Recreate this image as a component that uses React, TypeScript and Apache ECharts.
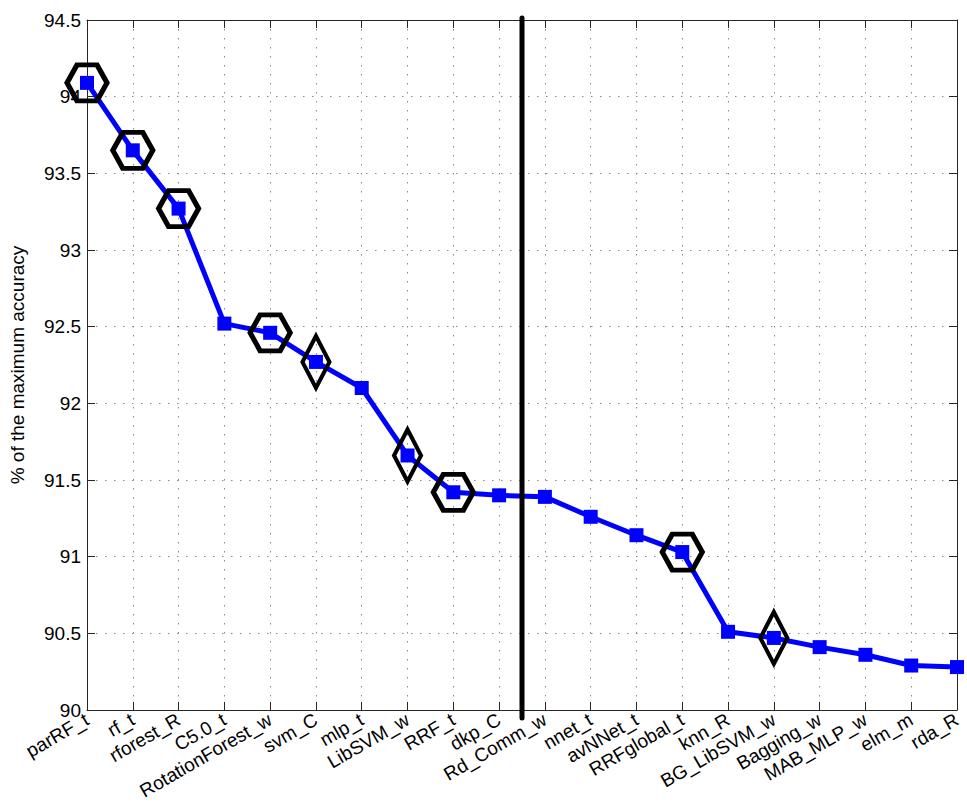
import React, { useEffect, useRef } from "react";
import * as echarts from "echarts";

const categories = [
  "parRF_t", "rf_t", "rforest_R", "C5.0_t", "RotationForest_w", "svm_C", "mlp_t",
  "LibSVM_w", "RRF_t", "dkp_C", "Rd_Comm_w", "nnet_t", "avNNet_t", "RRFglobal_t",
  "knn_R", "BG_LibSVM_w", "Bagging_w", "MAB_MLP_w", "elm_m", "rda_R",
];
const accuracy = [
  94.09, 93.65, 93.27, 92.52, 92.46, 92.27, 92.10, 91.66, 91.42, 91.40,
  91.39, 91.26, 91.14, 91.03, 90.51, 90.47, 90.41, 90.36, 90.29, 90.28,
];
const hexagonMarked = ["parRF_t", "rf_t", "rforest_R", "RotationForest_w", "RRF_t", "RRFglobal_t"];
const diamondMarked = ["svm_C", "LibSVM_w", "BG_LibSVM_w"];
const yMin = 90;
const yMax = 94.5;
const yStep = 0.5;
const dividerPosition = 9.5; // between dkp_C and Rd_Comm_w
const yAxisTitle = "% of the maximum accuracy";

const FONT = "'Liberation Sans', Arial, Helvetica, sans-serif";
const HEX = "path://M0,18 L10,0 L30,0 L40,18 L30,36 L10,36 Z";

export default function App() {
  const ref = useRef<HTMLDivElement>(null);
  useEffect(() => {
    if (!ref.current) return;
    const chart = echarts.init(ref.current, undefined, { renderer: "svg" });
    const pts = categories.map((c, i) => [i, accuracy[i]]);
    const hexData = categories
      .map((c, i) => (hexagonMarked.includes(c) ? [i, accuracy[i]] : null))
      .filter((d) => d !== null);
    const diaData = categories
      .map((c, i) => (diamondMarked.includes(c) ? [i, accuracy[i]] : null))
      .filter((d) => d !== null);
    const axisLineStyle = { color: "#262626", width: 1 };
    const gridLine = { show: true, lineStyle: { type: [1.5, 7.5] as any, color: "#8a8a8a", width: 1 } };
    chart.setOption({
      animation: false,
      backgroundColor: "#ffffff",
      textStyle: { fontFamily: FONT },
      grid: { left: 82, right: 10, top: 20, bottom: 93, containLabel: false },
      xAxis: [
        {
          type: "value",
          min: 0,
          max: categories.length - 1,
          interval: 1,
          position: "bottom",
          axisLine: { show: true, onZero: false, lineStyle: axisLineStyle },
          axisTick: { show: true, inside: true, length: 8, lineStyle: axisLineStyle },
          axisLabel: {
            show: true,
            rotate: 30,
            margin: 8,
            color: "#000",
            fontSize: 19,
            fontFamily: FONT,
            formatter: (v: number) => categories[Math.round(v)] ?? "",
          },
          splitLine: gridLine,
        },
        {
          type: "value",
          min: 0,
          max: categories.length - 1,
          interval: 1,
          position: "top",
          axisLine: { show: true, onZero: false, lineStyle: axisLineStyle },
          axisTick: { show: true, inside: true, length: 8, lineStyle: axisLineStyle },
          axisLabel: { show: false },
          splitLine: { show: false },
        },
      ],
      yAxis: [
        {
          type: "value",
          min: yMin,
          max: yMax,
          interval: yStep,
          position: "left",
          name: yAxisTitle,
          nameLocation: "middle",
          nameGap: 60,
          nameTextStyle: { color: "#000", fontSize: 19, fontFamily: FONT },
          axisLine: { show: true, onZero: false, lineStyle: axisLineStyle },
          axisTick: { show: true, inside: true, length: 8, lineStyle: axisLineStyle },
          axisLabel: { color: "#000", fontSize: 19, margin: 6, fontFamily: FONT },
          splitLine: gridLine,
        },
        {
          type: "value",
          min: yMin,
          max: yMax,
          interval: yStep,
          position: "right",
          axisLine: { show: true, onZero: false, lineStyle: axisLineStyle },
          axisTick: { show: true, inside: true, length: 8, lineStyle: axisLineStyle },
          axisLabel: { show: false },
          splitLine: { show: false },
        },
      ],
      series: [
        {
          type: "line",
          data: pts,
          clip: false,
          silent: true,
          symbol: "rect",
          symbolSize: 14,
          showAllSymbol: true,
          lineStyle: { color: "#0000ff", width: 5 },
          itemStyle: { color: "#0000ff", opacity: 1 },
          z: 2,
        },
        {
          type: "scatter",
          data: hexData,
          clip: false,
          silent: true,
          symbol: HEX,
          symbolSize: [40, 36],
          itemStyle: { color: "rgba(0,0,0,0)", borderColor: "#000", borderWidth: 5, opacity: 1 },
          z: 3,
        },
        {
          type: "scatter",
          data: diaData,
          clip: false,
          silent: true,
          symbol: "diamond",
          symbolSize: [27, 52],
          itemStyle: { color: "rgba(0,0,0,0)", borderColor: "#000", borderWidth: 4.5, opacity: 1 },
          z: 3,
        },
      ],
    });
    const top = chart.convertToPixel({ xAxisIndex: 0, yAxisIndex: 0 }, [dividerPosition, yMax]) as number[];
    const bottom = chart.convertToPixel({ xAxisIndex: 0, yAxisIndex: 0 }, [dividerPosition, yMin]) as number[];
    chart.setOption({
      graphic: [
        {
          type: "line",
          z: 10,
          silent: true,
          shape: { x1: top[0], y1: top[1] - 2, x2: bottom[0], y2: bottom[1] + 8 },
          style: { stroke: "#000", lineWidth: 5, lineCap: "round" },
        },
      ],
    });
    return () => chart.dispose();
  }, []);
  return (
    <div
      ref={ref}
      style={{ position: "fixed", left: 0, top: 0, width: 967, height: 803, background: "#fff" }}
    />
  );
}
